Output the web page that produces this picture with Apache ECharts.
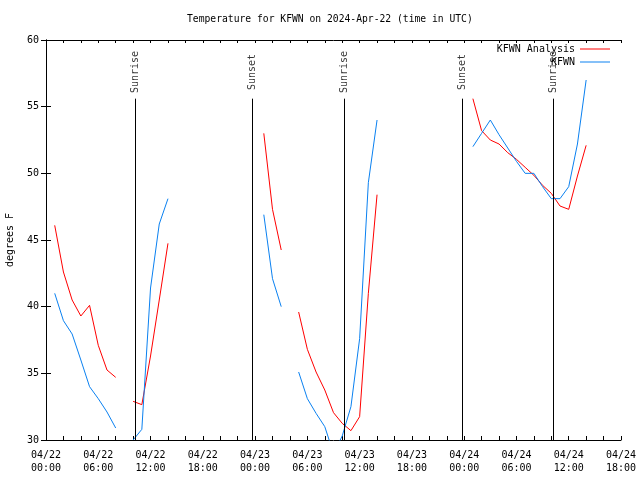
<!DOCTYPE html>
<html><head><meta charset="utf-8">
<script src="https://cdn.jsdelivr.net/npm/echarts@6/dist/echarts.min.js"></script>
<style>html,body{margin:0;padding:0;background:#fff}#c{width:640px;height:480px}</style>
</head><body><div id="c"></div>
<script>
// hours since 2024-04-22 00:00 UTC
const hours = [];
for (let h = 1; h <= 62; h++) hours.push(h);
const analysis = [
  46.1, 42.6, 40.5, 39.3, 40.1, 37.1, 35.25, 34.7, null,
  32.9, 32.65, 36.3, 40.5, 44.75,
  null, null, null, null, null, null, null, null, null, null,
  53.0, 47.3, 44.25, null,
  39.6, 36.8, 35.1, 33.75, 32.05, 31.25, 30.7, 31.75, 41.0, 48.4,
  null, null, null, null, null, null, null, null, null, null,
  55.6, 53.2, 52.5, 52.2, 51.55, 51.05, 50.45, 49.85, 49.1, 48.5, 47.55, 47.3, 49.8, 52.1
];
const observed = [
  41.0, 38.95, 37.95, 36.0, 34.0, 33.1, 32.1, 30.9, null,
  30.0, 30.8, 41.4, 46.2, 48.1,
  null, null, null, null, null, null, null, null, null, null,
  46.9, 42.1, 40.0, null,
  35.1, 33.1, 32.0, 31.0, 29.0, 30.3, 32.5, 37.6, 49.3, 54.0,
  null, null, null, null, null, null, null, null, null, null,
  52.0, 53.0, 54.0, 52.9, 51.9, 50.9, 50.0, 50.0, 49.0, 48.1, 48.1, 49.0, 52.2, 57.0
];
const xTickLabels = ['04/22\n00:00','04/22\n06:00','04/22\n12:00','04/22\n18:00',
  '04/23\n00:00','04/23\n06:00','04/23\n12:00','04/23\n18:00',
  '04/24\n00:00','04/24\n06:00','04/24\n12:00','04/24\n18:00'];
const sunTimes = [10.22, 23.7, 34.2, 47.75, 58.2];
const sunLabels = ['Sunrise','Sunset','Sunrise','Sunset','Sunrise'];

const FONT = 'DejaVu Sans Mono';
const chart = echarts.init(document.getElementById('c'), null, {renderer: 'canvas'});
const axisBase = {
  axisLine: {show: true, lineStyle: {color: '#000', width: 1}},
  splitLine: {show: false}
};
chart.setOption({
  animation: false,
  backgroundColor: '#fff',
  graphic: [{
    type: 'text', left: 333 - 146, top: 14,
    style: {text: 'Temperature for KFWN on 2024-Apr-22 (time in UTC)', font: '9.7px "' + FONT + '"', fill: '#000'}
  }],
  legend: {
    data: ['KFWN Analysis', 'KFWN'],
    orient: 'vertical', align: 'right', right: 30, top: 43, padding: 0,
    icon: 'rect', itemWidth: 30, itemHeight: 1, itemGap: 1,
    textStyle: {fontFamily: FONT, fontSize: 10, color: '#000', lineHeight: 12},
    selectedMode: false
  },
  grid: {left: 46, right: 19, top: 40, bottom: 40, containLabel: false, outerBoundsMode: 'none'},
  xAxis: [
    Object.assign({
      type: 'value', min: 0, max: 66, interval: 2, position: 'bottom',
      axisTick: {show: true, inside: true, length: 4, lineStyle: {color: '#000'}},
      axisLabel: {
        margin: 9, color: '#000', fontFamily: FONT, fontSize: 10, lineHeight: 13,
        showMinLabel: true, showMaxLabel: true,
        formatter: v => (v % 6 === 0 ? xTickLabels[v / 6] : '')
      }
    }, axisBase),
    Object.assign({
      type: 'value', min: 0, max: 66, interval: 2, position: 'top',
      axisTick: {show: true, inside: true, length: 3, lineStyle: {color: '#000'}},
      axisLabel: {show: false}
    }, axisBase)
  ],
  yAxis: [
    Object.assign({
      type: 'value', min: 30, max: 60, interval: 5, position: 'left',
      name: 'degrees F', nameLocation: 'middle', nameGap: 31, nameRotate: 90,
      nameTextStyle: {fontFamily: FONT, fontSize: 10, color: '#000'},
      axisTick: {show: true, inside: true, length: 5, lineStyle: {color: '#000'}},
      axisLabel: {margin: 7, color: '#000', fontFamily: FONT, fontSize: 10}
    }, axisBase),
    Object.assign({
      type: 'value', min: 30, max: 60, interval: 5, position: 'right',
      axisTick: {show: true, inside: true, length: 5, lineStyle: {color: '#000'}},
      axisLabel: {show: false}
    }, axisBase)
  ],
  series: [
    {
      name: 'KFWN Analysis', type: 'line', symbol: 'none', showSymbol: false,
      connectNulls: false, clip: true,
      lineStyle: {color: '#ff0000', width: 1}, itemStyle: {color: '#ff0000'},
      data: hours.map((h, i) => [h, analysis[i]])
    },
    {
      name: 'KFWN', type: 'line', symbol: 'none', showSymbol: false,
      connectNulls: false, clip: true,
      lineStyle: {color: '#0a80f0', width: 1}, itemStyle: {color: '#0a80f0'},
      data: hours.map((h, i) => [h, observed[i]])
    },
    {
      name: 'sun', type: 'scatter', symbolSize: 0, silent: true,
      label: {show: true, formatter: '{b}', rotate: 90, position: 'inside',
        color: '#000', fontFamily: FONT, fontSize: 10},
      data: sunTimes.map((t, i) => ({name: sunLabels[i], value: [t, 57.6]})),
      markLine: {
        silent: true, symbol: ['none', 'none'],
        label: {show: false},
        lineStyle: {color: '#000', width: 1, type: 'solid'},
        data: sunTimes.map(t => [{coord: [t, 30]}, {coord: [t, 55.6]}])
      }
    }
  ]
});
</script>
</body></html>
